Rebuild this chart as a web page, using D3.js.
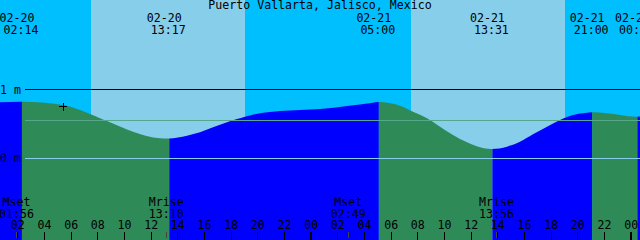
<!DOCTYPE html>
<html>
<head>
<meta charset="utf-8">
<script src="https://cdn.jsdelivr.net/npm/d3@7"></script>
<style>
  html, body { margin: 0; padding: 0; background: #fff; }
  svg { display: block; }
  text { font-family: "DejaVu Sans Mono", monospace; font-size: 11.6px; fill: #000; }
</style>
</head>
<body>
<svg id="chart" width="640" height="240"></svg>
<script>
// ---- Data (hours counted from 02-20 00:00 local) ----
const title = "Puerto Vallarta, Jalisco, Mexico";

const tideHours = [0.7, 2.233, 5.425, 7.45, 8.2, 8.725, 10.675, 12.7, 13.283, 14.725, 15.7, 16.675, 17.725,
  18.475, 19.075, 20.2, 21.7, 23.2, 24.7, 26.725, 28.675, 29.0, 30.7, 31.675, 32.725, 33.7, 34.675,
  35.725, 36.7, 37.517, 38.725, 39.7, 40.675, 41.725, 42.7, 43.675, 44.725, 45.0, 46.225, 47.2, 48.4, 48.75];
const tideHeights = [0.813, 0.822, 0.774, 0.642, 0.580, 0.540, 0.384, 0.288, 0.285, 0.326, 0.375, 0.448, 0.521,
  0.569, 0.603, 0.653, 0.686, 0.701, 0.715, 0.759, 0.807, 0.818, 0.764, 0.676, 0.580, 0.457, 0.336,
  0.229, 0.156, 0.131, 0.165, 0.238, 0.346, 0.457, 0.555, 0.628, 0.661, 0.667, 0.653, 0.628, 0.602, 0.606];

const eventHours = [2.233, 13.283, 29.0, 37.517, 45.0, 48.4];
const eventDates = ["02-20", "02-20", "02-21", "02-21", "02-21", "02-22"];
const eventTimes = ["02:14", "13:17", "05:00", "13:31", "21:00", "00:24"];
const eventTypes = ["high", "low", "high", "low", "high", "low"];

const moonHours = [1.933, 13.167, 26.817, 37.933];
const moonNames = ["Mset", "Mrise", "Mset", "Mrise"];
const moonTimes = ["01:56", "13:10", "02:49", "13:56"];

const sunriseHours = [7.517, 31.517];
const sunsetHours = [19.083, 43.067];

const markHour = 5.45, markHeight = 0.745;   // "+" marker
const meanLevel = 0.547;                      // middle reference line
const levelTicks = [0, 1];
const hourTicks = d3.range(2, 49, 2);

// ---- Layout ----
const W = 640, H = 240;
const svg = d3.select("#chart");
const x = d3.scaleLinear().domain([0.7, 48.7]).range([0, W]);
const y = d3.scaleLinear().domain([0, 1]).range([158, 89.5]);

const colNight = "#00BFFF", colDay = "#87CEEB";
const colRise = "#0000FF", colFall = "#2E8B57";

// Night background
svg.append("rect").attr("x", 0).attr("y", 0).attr("width", W).attr("height", H).attr("fill", colNight);
// Day bands
svg.selectAll("rect.day").data(d3.range(sunriseHours.length)).join("rect")
  .attr("class", "day")
  .attr("x", i => x(sunriseHours[i]))
  .attr("y", 0)
  .attr("width", i => x(sunsetHours[i]) - x(sunriseHours[i]))
  .attr("height", H)
  .attr("fill", colDay)
  .attr("shape-rendering", "crispEdges");

// Water area split by rising / falling
const pts = tideHours.map((h, i) => ({ h, v: tideHeights[i] }));
const area = d3.area().x(d => x(d.h)).y0(H).y1(d => y(d.v)).curve(d3.curveMonotoneX);

const bounds = [x.domain()[0] - 1, ...eventHours, x.domain()[1] + 1];
const segs = [];
for (let i = 0; i < bounds.length - 1; i++) {
  const endType = i < eventTypes.length ? eventTypes[i] : (eventTypes[eventTypes.length - 1] === "low" ? "high" : "low");
  segs.push({ a: bounds[i], b: bounds[i + 1], color: endType === "high" ? colRise : colFall });
}
const defs = svg.append("defs");
segs.forEach((s, i) => {
  defs.append("clipPath").attr("id", "seg" + i)
    .append("rect")
    .attr("x", x(s.a) + 1.5).attr("y", 0)
    .attr("width", x(s.b) - x(s.a)).attr("height", H);
  svg.append("path").datum(pts)
    .attr("d", area)
    .attr("fill", s.color)
    .attr("clip-path", `url(#seg${i})`);
});

// Reference lines
svg.append("line").attr("x1", 25).attr("x2", W).attr("y1", y(1)).attr("y2", y(1))
  .attr("stroke", "#000").attr("stroke-width", 1).attr("shape-rendering", "crispEdges");
svg.append("line").attr("x1", 25).attr("x2", W).attr("y1", y(meanLevel) ).attr("y2", y(meanLevel))
  .attr("stroke", "#55A88C").attr("stroke-width", 1).attr("shape-rendering", "crispEdges");
svg.append("line").attr("x1", 25).attr("x2", W).attr("y1", y(0)).attr("y2", y(0))
  .attr("stroke", "#87CEEB").attr("stroke-width", 1).attr("shape-rendering", "crispEdges");

// Level labels
svg.selectAll("text.lvl").data(levelTicks).join("text")
  .attr("class", "lvl")
  .attr("x", 0).attr("y", d => y(d) + 4)
  .text(d => d + " m");

// Marker "+"
const mx = x(markHour), my = y(markHeight);
svg.append("path").attr("d", `M${mx - 4},${my}H${mx + 4}M${mx},${my - 4}V${my + 4}`)
  .attr("stroke", "#000").attr("stroke-width", 1).attr("shape-rendering", "crispEdges");

// Title
svg.append("text").attr("x", 320).attr("y", 9).attr("text-anchor", "middle").text(title);

// Tide event labels
const ev = svg.append("g");
eventHours.forEach((h, i) => {
  ev.append("text").attr("x", x(h) - 3.5).attr("y", 21.5).attr("text-anchor", "middle").text(eventDates[i]);
  ev.append("text").attr("x", x(h) + 0.5).attr("y", 34).attr("text-anchor", "middle").text(eventTimes[i]);
});

// Moon event labels and small ticks
moonHours.forEach((h, i) => {
  svg.append("text").attr("x", x(h)).attr("y", 206).attr("text-anchor", "middle").text(moonNames[i]);
  svg.append("text").attr("x", x(h)).attr("y", 218).attr("text-anchor", "middle").text(moonTimes[i]);
  svg.append("line").attr("x1", x(h)).attr("x2", x(h)).attr("y1", 232).attr("y2", 238)
    .attr("stroke", "#444").attr("stroke-width", 1).attr("shape-rendering", "crispEdges");
});

// Hour axis
const axis = d3.axisTop(x).tickValues(hourTicks).tickSize(8).tickPadding(3)
  .tickFormat(h => String(h % 24).padStart(2, "0"));
const gAxis = svg.append("g").attr("transform", `translate(0,${H})`).call(axis);
gAxis.select(".domain").remove();
gAxis.selectAll("text").attr("font-family", null).attr("font-size", null).style("fill", "#000");
gAxis.selectAll(".tick line").attr("stroke", "#000")
  .attr("stroke-width", d => d % 24 === 0 ? 2 : 1)
  .attr("shape-rendering", "crispEdges");
</script>
</body>
</html>
